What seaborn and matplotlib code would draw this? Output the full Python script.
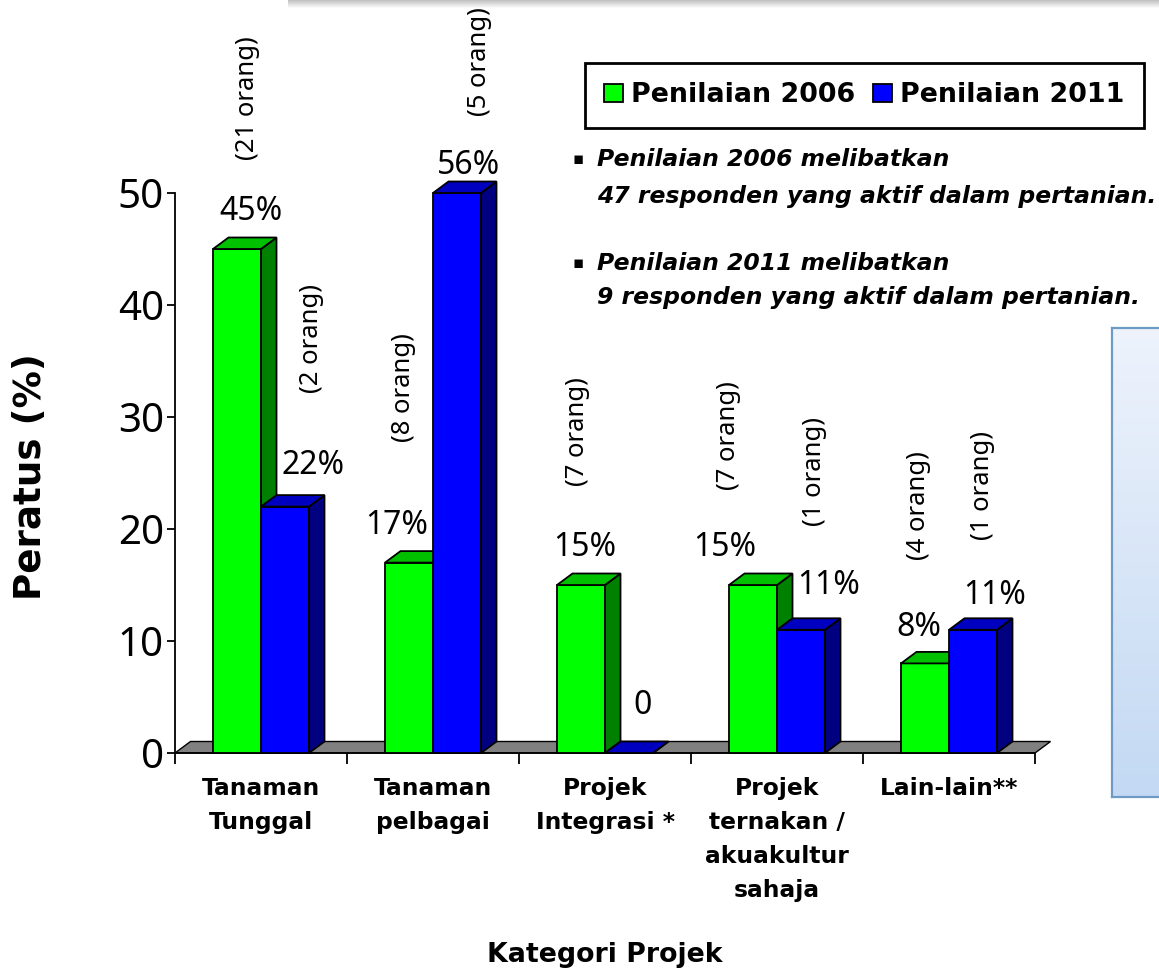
import numpy as np
import pandas as pd
import matplotlib
matplotlib.use("Agg")
import matplotlib.pyplot as plt
from matplotlib.patches import Polygon
from matplotlib.colors import LinearSegmentedColormap
import seaborn as sns

# ---------------- data ----------------
categories = ["Tanaman\nTunggal", "Tanaman\npelbagai", "Projek\nIntegrasi *",
              "Projek\nternakan /\nakuakultur\nsahaja", "Lain-lain**"]
series = ["Penilaian 2006", "Penilaian 2011"]
values_2006 = [45, 17, 15, 15, 8]
values_2011 = [22, 50, 0, 11, 11]          # bar heights as drawn (56% bar reaches the axis top, 50)
labels_2006 = ["45%", "17%", "15%", "15%", "8%"]
labels_2011 = ["22%", "56%", "0", "11%", "11%"]
counts_2006 = ["(21 orang)", "(8 orang)", "(7 orang)", "(7 orang)", "(4 orang)"]
counts_2011 = ["(2 orang)", "(5 orang)", "", "(1 orang)", "(1 orang)"]
y_ticks = [0, 10, 20, 30, 40, 50]
notes = [["Penilaian 2006 melibatkan", "47 responden yang aktif dalam pertanian."],
         ["Penilaian 2011 melibatkan", "9 responden yang aktif dalam pertanian."]]
x_title = "Kategori Projek"
y_title = "Peratus (%)"

# label offsets in pixels (dx right, dy up) from the bar's front top centre
pct_off_2006 = [(14, 37), (-12, 37), (4, 37), (-28, 37), (-6, 36)]
pct_off_2011 = [(28, 41), (12, 28), (14, 48), (28, 44), (22, 34)]
cnt_off_2006 = [(10, 151), (-6, 175), (-4, 153), (-25, 149), (-7, 158)]
cnt_off_2011 = [(27, 168), (23, 131), (0, 0), (14, 158), (10, 144)]

# ---------------- style ----------------
sns.set_theme(style="white")
plt.rcParams["font.family"] = ["Noto Sans", "DejaVu Sans"]
plt.rcParams["text.color"] = "black"
plt.rcParams["axes.labelcolor"] = "black"
plt.rcParams["xtick.color"] = "black"
plt.rcParams["ytick.color"] = "black"
BOLD = ["DejaVu Sans"]

W, H = 1159, 972
fig = plt.figure(figsize=(W / 100, H / 100), dpi=100)
fig.patch.set_facecolor("white")

ax = fig.add_axes([175 / W, (H - 753) / H, 860 / W, 560 / H])

df = pd.DataFrame({
    "kategori": categories * 2,
    "nilai": values_2006 + values_2011,
    "tahun": [series[0]] * len(categories) + [series[1]] * len(categories),
})

front = ["#00FF00", "#0000FF"]
top_c = ["#00C000", "#0000C0"]
side_c = ["#008000", "#000080"]

sns.barplot(data=df, x="kategori", y="nilai", hue="tahun", order=categories,
            hue_order=series, palette=front, width=0.558, edgecolor="black",
            linewidth=1.3, saturation=1, legend=False, ax=ax)

ax.set_xlim(-0.5, len(categories) - 0.5)
ax.set_ylim(0, 50)

# depth for 3D look (data units)
ddx = 15.5 / 172.0
ddy = 11.5 / 11.2

# floor
floor = Polygon([(-0.5, 0), (len(categories) - 0.5, 0),
                 (len(categories) - 0.5 + ddx, ddy), (-0.5 + ddx, ddy)],
                closed=True, facecolor="#808080", edgecolor="black", linewidth=1.0,
                zorder=1, clip_on=False)
ax.add_patch(floor)

for k, cont in enumerate(ax.containers):
    z = 3 + k
    for p in cont.patches:
        p.set_zorder(z)
        p.set_clip_on(False)
        x0, w, h = p.get_x(), p.get_width(), p.get_height()
        side = Polygon([(x0 + w, 0), (x0 + w + ddx, ddy), (x0 + w + ddx, h + ddy), (x0 + w, h)],
                       closed=True, facecolor=side_c[k], edgecolor="black", linewidth=1.3,
                       zorder=z, clip_on=False)
        top = Polygon([(x0, h), (x0 + w, h), (x0 + w + ddx, h + ddy), (x0 + ddx, h + ddy)],
                      closed=True, facecolor=top_c[k], edgecolor="black", linewidth=1.3,
                      zorder=z, clip_on=False)
        ax.add_patch(side)
        ax.add_patch(top)

# value and count labels
pct_sets = [(labels_2006, pct_off_2006), (labels_2011, pct_off_2011)]
cnt_sets = [(counts_2006, cnt_off_2006), (counts_2011, cnt_off_2011)]
for k, cont in enumerate(ax.containers):
    labs, offs = pct_sets[k]
    clabs, coffs = cnt_sets[k]
    for i, p in enumerate(cont.patches):
        cx = p.get_x() + p.get_width() / 2
        h = p.get_height()
        ax.annotate(labs[i], xy=(cx, h), xytext=offs[i], textcoords="offset pixels",
                    ha="center", va="center", fontsize=23, color="black",
                    zorder=10, annotation_clip=False)
        if clabs[i]:
            ax.annotate(clabs[i], xy=(cx, h), xytext=coffs[i], textcoords="offset pixels",
                        ha="center", va="center", fontsize=18.5, rotation=90,
                        color="black", zorder=10, annotation_clip=False)

# axes styling
for s in ["top", "right"]:
    ax.spines[s].set_visible(False)
for s in ["left", "bottom"]:
    ax.spines[s].set_color("black")
    ax.spines[s].set_linewidth(1.3)
    ax.spines[s].set_zorder(2)

ax.set_yticks(y_ticks)
ax.set_yticklabels([str(t) for t in y_ticks])
ax.tick_params(axis="y", which="major", direction="out", length=6, width=1.3,
               color="black", labelcolor="black", labelsize=29, pad=2, left=True)

ax.set_xticks(np.arange(-0.5, len(categories), 1.0))
ax.set_xticklabels([""] * (len(categories) + 1))
ax.set_xticks(np.arange(len(categories)), minor=True)
ax.set_xticklabels(categories, minor=True, fontsize=16.8, fontweight="bold",
                   family=BOLD, linespacing=1.62, color="black")
ax.tick_params(axis="x", which="major", direction="out", length=8, width=1.3,
               color="black", bottom=True)
ax.tick_params(axis="x", which="minor", length=0, pad=17)

ax.set_xlabel(x_title, fontsize=19.3, fontweight="bold", family=BOLD, va="center",
              color="black")
ax.xaxis.set_label_coords((605 - 175) / 860, (753 - 955) / 560)
ax.set_ylabel(y_title, fontsize=26.8, fontweight="bold", family=BOLD, va="center",
              color="black")
ax.yaxis.set_label_coords((31 - 175) / 860, (753 - 477) / 560)
ax.grid(False)
ax.set_facecolor("none")

# legend
handles = [cont.patches[0] for cont in ax.containers]
leg = fig.legend(handles, series, loc="upper left",
                 bbox_to_anchor=(585 / W, 1 - 63 / H), bbox_transform=fig.transFigure,
                 ncol=2, frameon=True, fancybox=False, edgecolor="black", framealpha=1,
                 prop={"weight": "bold", "size": 19.4, "family": BOLD},
                 handlelength=0.7, handleheight=0.7,
                 handletextpad=0.3, columnspacing=0.65, borderpad=0.72, borderaxespad=0)
leg.get_frame().set_linewidth(2)
for t in leg.get_texts():
    t.set_color("black")

# notes
for j, (l1, l2) in enumerate(notes):
    y1 = [160, 264][j]
    y2 = [197, 297][j]
    fig.text(578 / W, 1 - (y1 - 1) / H, "\u25aa", fontsize=12, ha="center", va="center",
             family=["DejaVu Sans"], color="black")
    fig.text(597 / W, 1 - y1 / H, l1, fontsize=16.9, fontweight="bold", fontstyle="italic",
             family=BOLD, ha="left", va="center", color="black")
    fig.text(597 / W, 1 - y2 / H, l2, fontsize=16.9, fontweight="bold", fontstyle="italic",
             family=BOLD, ha="left", va="center", color="black")

# light blue panel on the right
bx = fig.add_axes([1112 / W, (H - 797) / H, 60 / W, (797 - 328) / H])
grad = np.linspace(0, 1, 256)[:, None]
cmap = LinearSegmentedColormap.from_list("pan", ["#EEF3FC", "#C3D9F3"])
bx.imshow(grad, aspect="auto", cmap=cmap, extent=[0, 1, 0, 1])
bx.set_xticks([])
bx.set_yticks([])
for s in bx.spines.values():
    s.set_color("#6E9BC5")
    s.set_linewidth(1.6)

# grey shadow band at top
tb = fig.add_axes([288 / W, 1 - 8 / H, (W - 288) / W, 8 / H])
cmap2 = LinearSegmentedColormap.from_list("sh", ["#BEBEBE", "#FFFFFF"])
tb.imshow(grad, aspect="auto", cmap=cmap2, extent=[0, 1, 0, 1])
tb.set_axis_off()

fig.savefig("out.png", dpi=100, facecolor="white")
